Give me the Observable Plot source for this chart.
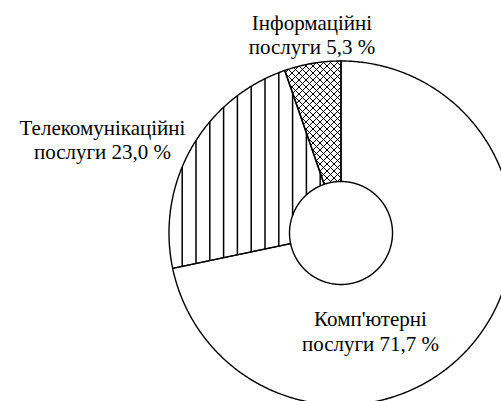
<!DOCTYPE html>
<html>
<head>
<meta charset="utf-8">
<script src="https://cdn.jsdelivr.net/npm/d3@7"></script>
<script src="https://cdn.jsdelivr.net/npm/@observablehq/plot@0.6"></script>
<style>
  html, body { margin: 0; padding: 0; overflow: hidden; background: white; }
</style>
</head>
<body>
<div id="chart"></div>
<script>
// Data
const categories = ["Інформаційні", "Телекомунікаційні", "Комп'ютерні"];
const shares = [5.3, 23.0, 71.7];
// Hatch style for each slice
const hatchKinds = ["cross", "vertical", "none"];
// Label anchors (layout, in chart units where outer radius = 1)
const labelX = [-0.1686, -1.3866, 0.1715];
const labelY = [1.155, 0.5448, -0.5686];

const R = 172, cx = 340.5, cy = 232.5, W = 501, H = 401;
const innerR = 51.5 / 172;
const total = d3.sum(shares);

// Slice angles (counter-clockwise from 12 o'clock)
const angles = [];
{
  let acc = 0;
  shares.forEach(s => { const a0 = acc / total * 2 * Math.PI; acc += s; angles.push([a0, acc / total * 2 * Math.PI]); });
}

// Wedge outlines
const wedgePts = [];
categories.forEach((cat, i) => {
  const [a0, a1] = angles[i];
  const n = Math.max(4, Math.ceil((a1 - a0) / (2 * Math.PI) * 720));
  const ring = [];
  for (let k = 0; k <= n; k++) {
    const a = a0 + (a1 - a0) * k / n;
    ring.push({cat, x: -Math.sin(a), y: Math.cos(a)});
  }
  for (let k = n; k >= 0; k--) {
    const a = a0 + (a1 - a0) * k / n;
    ring.push({cat, x: -Math.sin(a) * innerR, y: Math.cos(a) * innerR});
  }
  ring.push({...ring[0]});
  wedgePts.push(...ring);
});

// Hatch segments clipped to each slice (geometry in pixels, converted to chart units)
function inside(i, px, py) {
  const dx = (px - cx) / R, dy = (cy - py) / R;
  const r = Math.hypot(dx, dy);
  if (r < innerR || r > 1) return false;
  let t = Math.atan2(-dx, dy);
  if (t < 0) t += 2 * Math.PI;
  return t >= angles[i][0] && t <= angles[i][1];
}
const hatch = [];
function trace(i, f, t0, t1, w) {
  const step = 0.2;
  let start = null, prev = null;
  for (let t = t0; t <= t1 + step; t += step) {
    const [px, py] = f(t);
    const ins = t <= t1 && inside(i, px, py);
    if (ins && start === null) start = [px, py];
    if (!ins && start !== null) {
      hatch.push({x1: (start[0] - cx) / R, y1: (cy - start[1]) / R, x2: (prev[0] - cx) / R, y2: (cy - prev[1]) / R, w});
      start = null;
    }
    prev = [px, py];
  }
}
hatchKinds.forEach((kind, i) => {
  if (kind === "vertical") {
    for (let c = 2.3; c <= cx + R; c += 13.8) {
      if (c < cx - R) continue;
      trace(i, t => [c, t], cy - R, cy + R, 1.5);
    }
  } else if (kind === "cross") {
    for (let d = -600; d <= 600; d += 7) {
      trace(i, t => [d + t, t], cy - R, cy + R, 1.0);
    }
    for (let s = 0; s <= 1200; s += 7) {
      trace(i, t => [s - t, t], cy - R, cy + R, 1.0);
    }
  }
});

const fmt = v => v.toFixed(1).replace(".", ",");
const labels = categories.map((c, i) => ({
  x: labelX[i], y: labelY[i],
  text: `${c}\nпослуги ${fmt(shares[i])} %`
}));

function render() {
  const chart = Plot.plot({
    width: W,
    height: H,
    margin: 0,
    style: {fontFamily: "'Liberation Serif', 'Times New Roman', serif"},
    x: {domain: [-cx / R, (W - cx) / R], axis: null},
    y: {domain: [-(H - cy) / R, cy / R], axis: null},
    marks: [
      Plot.link(hatch, {x1: "x1", y1: "y1", x2: "x2", y2: "y2", stroke: "black", strokeWidth: "w", strokeLinecap: "butt"}),
      Plot.line(wedgePts, {x: "x", y: "y", z: "cat", fill: "none", stroke: "black", strokeWidth: 1.4, curve: "linear"}),
      Plot.text(labels, {x: "x", y: "y", text: "text", fontSize: 21, fontFamily: "Liberation Serif", lineHeight: 1.17, fill: "black"})
    ]
  });
  const host = document.getElementById("chart");
  host.replaceChildren(chart);
}

render();
// Re-render once the serif font is resolved so the labels repaint with it
requestAnimationFrame(render);
setTimeout(render, 60);
setTimeout(render, 250);
setTimeout(render, 700);
if (document.fonts) {
  document.fonts.load("21px 'Liberation Serif'", "Інформаційні").then(render, () => {});
  document.fonts.ready.then(render);
}
</script>
</body>
</html>
